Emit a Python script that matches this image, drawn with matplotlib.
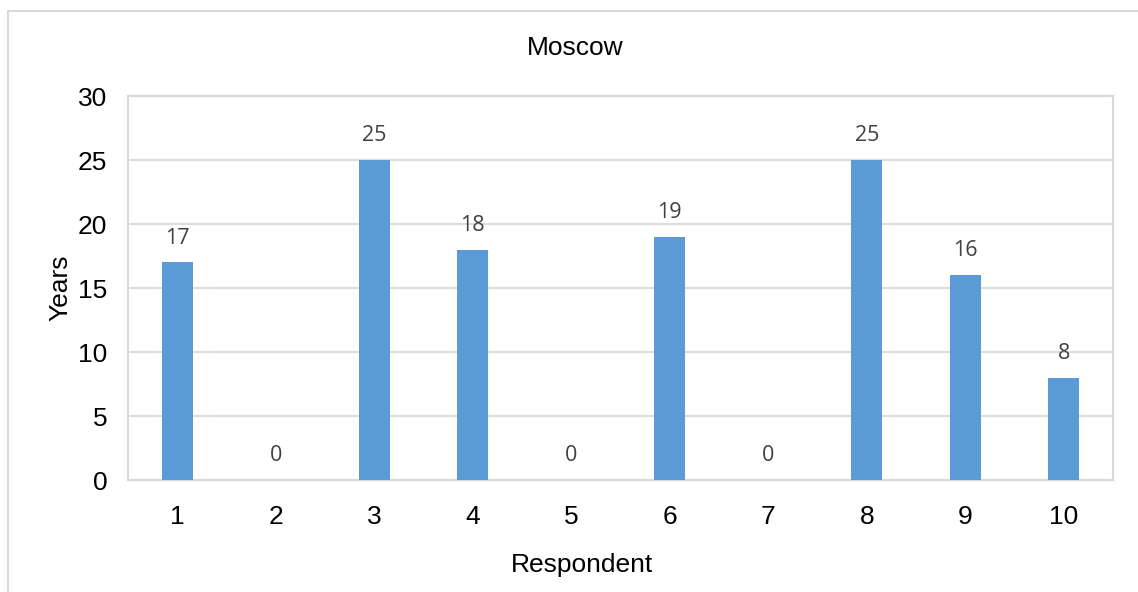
import matplotlib.pyplot as plt
from matplotlib.patches import Rectangle

# Moscow respondents: years of experience
respondents = ['1', '2', '3', '4', '5', '6', '7', '8', '9', '10']
years = [17, 0, 25, 18, 0, 19, 0, 25, 16, 8]

W, H = 1138, 592
fig = plt.figure(figsize=(W / 100, H / 100), dpi=100)

# outer chart border (runs off the right and bottom edges)
fig.patches.append(Rectangle((8 / W, -0.1), 1.2, 1 - 11 / H + 0.1,
                             transform=fig.transFigure, fill=False,
                             edgecolor='#d9d9d9', linewidth=1.5))

ax = fig.add_axes([128 / W, 1 - 480 / H, (1113 - 128) / W, (480 - 96) / H])

x = list(range(len(respondents)))
ax.bar(x, years, width=0.31, color='#5b9bd5', zorder=3)

for xi, v in zip(x, years):
    ax.annotate(str(v), (xi, v), xytext=(0, 10), textcoords='offset points',
                ha='center', va='bottom', fontsize=15.5, color='#404040',
                family='Open Sans')

ax.set_xlim(-0.5, len(respondents) - 0.5)
ax.set_ylim(0, 30)
ax.set_yticks(range(0, 31, 5))
ax.set_xticks(x)
ax.set_xticklabels(respondents)
ax.grid(axis='y', color='#d9d9d9', linewidth=1.3, zorder=0)
for s in ax.spines.values():
    s.set_color('#d9d9d9')
    s.set_linewidth(1.5)
ax.tick_params(length=0, labelsize=19, labelcolor='black')
ax.tick_params(axis='x', pad=18)
ax.tick_params(axis='y', pad=15)
for lab in ax.get_xticklabels() + ax.get_yticklabels():
    lab.set_family('Liberation Sans')

fig.text(575 / W, 1 - 48 / H, 'Moscow', ha='center', va='center',
         fontsize=19, family='Liberation Sans')
fig.text(582 / W, 1 - 565 / H, 'Respondent', ha='center', va='center',
         fontsize=19, family='Liberation Sans')
fig.text(60 / W, 1 - 288 / H, 'Years', ha='center', va='center',
         rotation=90, fontsize=19, family='Liberation Sans')

fig.savefig('out.png', dpi=100)
